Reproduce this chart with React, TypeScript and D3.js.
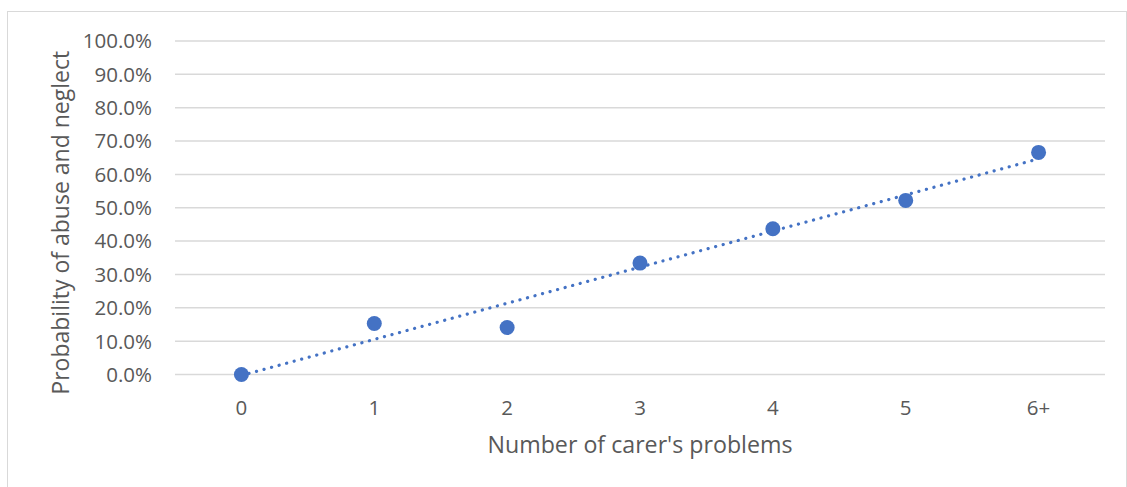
import React from "react";
import * as d3 from "d3";

const categories = ["0", "1", "2", "3", "4", "5", "6+"];
const values = [0.0, 0.153, 0.141, 0.334, 0.437, 0.522, 0.666];
const yTicks = [0, 0.1, 0.2, 0.3, 0.4, 0.5, 0.6, 0.7, 0.8, 0.9, 1.0];
const xTitle = "Number of carer's problems";
const yTitle = "Probability of abuse and neglect";

const W = 1127;
const H = 487;
const plot = { left: 175, right: 1105, top: 41, bottom: 374.5 };
const FONT = "'Open Sans', sans-serif";

export default function App() {
  const x = d3.scaleBand<string>().domain(categories).range([plot.left, plot.right]);
  const cx = (c: string) => (x(c) as number) + x.bandwidth() / 2;
  const y = d3.scaleLinear().domain([0, 1]).range([plot.bottom, plot.top]);
  const fmt = d3.format(".1%");

  // linear regression trendline
  const n = values.length;
  const xs = values.map((_, i) => i);
  const mx = d3.mean(xs) as number;
  const my = d3.mean(values) as number;
  const slope =
    d3.sum(xs.map((xi, i) => (xi - mx) * (values[i] - my))) /
    d3.sum(xs.map((xi) => (xi - mx) ** 2));
  const intercept = my - slope * mx;
  const trendPts: [number, number][] = [0, n - 1].map((i) => [
    cx(categories[i]),
    y(intercept + slope * i),
  ]);
  const line = d3.line();

  return (
    <svg width={W} height={H} style={{ position: "absolute", left: 0, top: 0 }}>
      <rect x={0} y={0} width={W} height={H} fill="#fff" />
      <rect x={7.5} y={11.5} width={W - 8} height={H} fill="#fff" stroke="#d9d9d9" strokeWidth={1} />
      {yTicks.map((t) => (
        <g key={t}>
          <line x1={plot.left} x2={plot.right} y1={y(t)} y2={y(t)} stroke="#d9d9d9" strokeWidth={1.5} />
          <text
            x={152}
            y={y(t)}
            dy="0.36em"
            textAnchor="end"
            fontFamily={FONT}
            fontSize={20.5}
            fill="#595959"
          >
            {fmt(t)}
          </text>
        </g>
      ))}
      {categories.map((c) => (
        <text
          key={c}
          x={cx(c)}
          y={407.5}
          dy="0.36em"
          textAnchor="middle"
          fontFamily={FONT}
          fontSize={20.5}
          fill="#595959"
        >
          {c}
        </text>
      ))}
      <text
        x={(plot.left + plot.right) / 2}
        y={445}
        dy="0.36em"
        textAnchor="middle"
        fontFamily={FONT}
        fontSize={23.2}
        fill="#595959"
      >
        {xTitle}
      </text>
      <text
        transform={`translate(61, ${(plot.top + plot.bottom) / 2 + 15}) rotate(-90)`}
        textAnchor="middle"
        dy="0.36em"
        fontFamily={FONT}
        fontSize={23}
        fill="#595959"
      >
        {yTitle}
      </text>
      <path
        d={line(trendPts) as string}
        fill="none"
        stroke="#4472C4"
        strokeWidth={3.2}
        strokeLinecap="round"
        strokeDasharray="0.1 7.7"
      />
      {values.map((v, i) => (
        <circle key={i} cx={cx(categories[i])} cy={y(v)} r={7.5} fill="#4472C4" />
      ))}
    </svg>
  );
}
